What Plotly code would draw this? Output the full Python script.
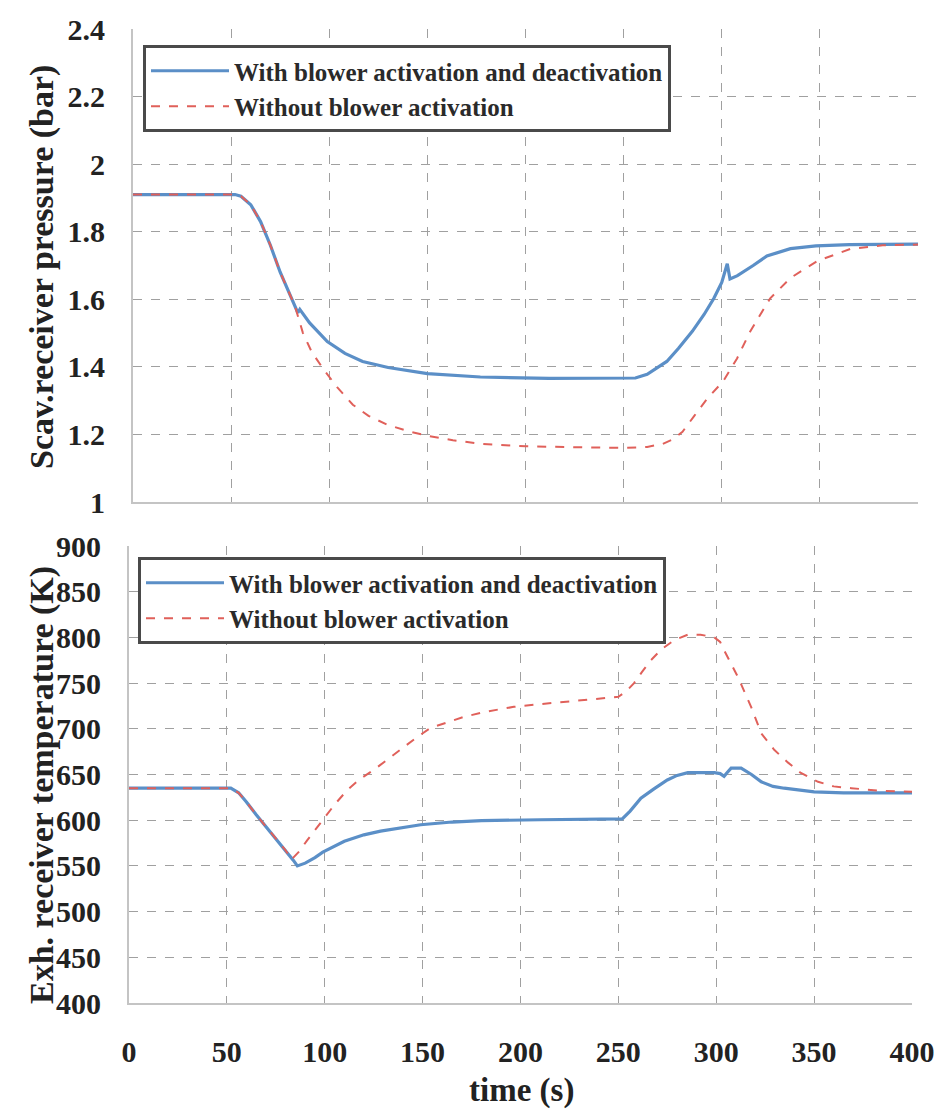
import plotly.graph_objects as go

# ---------------- data ----------------
# Top: scavenging receiver pressure (bar)
t_p_with = [0, 52, 55, 60, 65, 70, 75, 80, 82.5, 84, 85, 90, 99, 108, 117, 130, 150, 177, 212, 250,
            256, 262, 268, 272, 278, 285, 291, 296, 300, 302.8, 304.2, 308, 316, 323, 335, 348, 365, 400]
p_with = [1.91, 1.91, 1.905, 1.88, 1.83, 1.76, 1.68, 1.615, 1.585, 1.56, 1.57, 1.53, 1.475, 1.44, 1.416,
          1.398, 1.38, 1.37, 1.366, 1.365, 1.367, 1.378, 1.40, 1.416, 1.455, 1.505, 1.555, 1.603, 1.65,
          1.705, 1.66, 1.67, 1.70, 1.728, 1.75, 1.758, 1.762, 1.763]

t_p_without = [0, 52, 55, 60, 65, 70, 75, 80, 82.5, 86.6, 91, 96.8, 104, 112, 120, 129.5, 140, 150, 163,
               177, 200, 225, 250, 262, 270, 275, 280, 286, 292.6, 300.7, 307.8, 314.5, 324.7, 335, 348.6,
               365.5, 382, 400]
p_without = [1.91, 1.91, 1.905, 1.88, 1.83, 1.76, 1.68, 1.615, 1.58, 1.50, 1.445, 1.395, 1.34, 1.288,
             1.255, 1.229, 1.21, 1.196, 1.183, 1.172, 1.165, 1.162, 1.16, 1.163, 1.172, 1.185, 1.208, 1.255,
             1.306, 1.357, 1.425, 1.505, 1.603, 1.663, 1.713, 1.749, 1.76, 1.762]

# Bottom: exhaust receiver temperature (K)
t_T_with = [0, 52, 56, 60, 65, 70, 75, 80, 84, 86, 90, 95, 99, 110, 120, 128.5, 140, 149, 165, 180, 210,
            252, 256, 261.5, 268, 275, 280, 285.5, 292, 299, 302, 304, 305.5, 307.6, 312.7, 318, 323, 329,
            334.7, 342, 350, 365, 400]
T_with = [635, 635, 630, 620, 606, 593, 580, 567, 556, 550, 553, 559, 565, 577, 584, 588, 592, 595, 598,
          599.5, 600.5, 601.5, 610, 624, 634, 644, 649, 652, 652, 652, 651, 648, 652, 657, 657, 650, 642,
          637, 635, 633, 631, 630, 630]

t_T_without = [0, 52, 56, 60, 65, 70, 75, 80, 83, 87, 91, 95, 99, 105, 111.5, 118, 125, 131, 138.7, 146,
               154, 162, 171, 183, 196.6, 210, 224, 238, 250, 254, 258, 262, 266.6, 272, 278.5, 285.5, 292,
               299, 302, 304, 307.5, 311, 314.5, 317.8, 323, 329.6, 336.7, 343, 352, 360, 369, 385, 400]
T_without = [635, 635, 630, 620, 606, 593, 580, 567, 557, 566, 578, 589, 600, 617, 633, 645, 655, 665,
             677, 689, 701, 707, 713, 719, 724, 727, 730, 733, 735, 741, 750, 762, 775, 787, 797, 803, 803,
             800, 795, 786, 772, 757, 740, 724, 695, 677, 663, 652, 642, 637, 635, 632, 631]

x_ticks = [0, 50, 100, 150, 200, 250, 300, 350, 400]
p_ticks = [1, 1.2, 1.4, 1.6, 1.8, 2, 2.2, 2.4]
p_tick_text = ["1", "1.2", "1.4", "1.6", "1.8", "2", "2.2", "2.4"]
T_ticks = [400, 450, 500, 550, 600, 650, 700, 750, 800, 850, 900]

name_with = "With blower activation and deactivation"
name_without = "Without blower activation"

# ---------------- styling ----------------
W, H = 943, 1109
FONT = "Liberation Serif, DejaVu Serif, serif"
BLUE = "#5b8fc7"
RED = "#e0605a"
GRID = "#a0a0a0"
AXL = "#c4c4c4"

fig = go.Figure()
fig.add_trace(go.Scatter(x=t_p_with, y=p_with, mode="lines", name=name_with,
                         line=dict(color=BLUE, width=3.2), xaxis="x", yaxis="y", legend="legend"))
fig.add_trace(go.Scatter(x=t_p_without, y=p_without, mode="lines", name=name_without,
                         line=dict(color=RED, width=2, dash="dash"), xaxis="x", yaxis="y", legend="legend"))
fig.add_trace(go.Scatter(x=t_T_with, y=T_with, mode="lines", name=name_with,
                         line=dict(color=BLUE, width=3.2), xaxis="x2", yaxis="y2", legend="legend2"))
fig.add_trace(go.Scatter(x=t_T_without, y=T_without, mode="lines", name=name_without,
                         line=dict(color=RED, width=2, dash="dash"), xaxis="x2", yaxis="y2", legend="legend2"))

tickfont = dict(family=FONT, size=30, color="#222", weight="bold")


def px_x(a, b):
    return [a / W, b / W]


def px_y(top, bottom):
    return [1 - bottom / H, 1 - top / H]


common_x = dict(range=[0, 400], tickvals=x_ticks, showgrid=True, gridcolor=GRID, griddash="dash",
                gridwidth=1.2, zeroline=False, showline=True, linecolor=AXL, linewidth=2,
                ticks="", tickfont=tickfont, automargin=False)
common_y = dict(showgrid=True, gridcolor=GRID, griddash="dash", gridwidth=1.2, zeroline=False,
                showline=True, linecolor=AXL, linewidth=2, ticks="", tickfont=tickfont,
                ticklabelstandoff=20, automargin=False)

legend_common = dict(font=dict(family=FONT, size=25, color="#2a2a2a", weight="bold"),
                     bordercolor="#4a4a4a", borderwidth=3, bgcolor="white",
                     xanchor="left", yanchor="top", itemwidth=78, tracegroupgap=0,
                     itemclick=False)

title_font = dict(family=FONT, size=34, color="#222", weight="bold")

fig.update_layout(
    width=W, height=H, autosize=False,
    margin=dict(l=0, r=0, t=0, b=0, pad=0, autoexpand=False),
    paper_bgcolor="white", plot_bgcolor="white",
    showlegend=True,
    xaxis=dict(domain=px_x(133, 918), anchor="y", showticklabels=False, **common_x),
    yaxis=dict(domain=px_y(29, 502), anchor="x", range=[1, 2.4], tickvals=p_ticks,
               ticktext=p_tick_text, **common_y),
    xaxis2=dict(domain=px_x(129, 912), anchor="y2", ticklabelstandoff=21, **common_x),
    yaxis2=dict(domain=px_y(546, 1003), anchor="x2", range=[400, 900], tickvals=T_ticks, **common_y),
    legend=dict(x=143 / W, y=1 - 45 / H, **legend_common),
    legend2=dict(x=138 / W, y=1 - 557 / H, **legend_common),
    annotations=[
        dict(text="Scav.receiver pressure (bar)", x=42 / W, y=1 - 267 / H, xref="paper", yref="paper",
             textangle=-90, showarrow=False, xanchor="center", yanchor="middle", font=title_font),
        dict(text="Exh. receiver temperature (K)", x=42 / W, y=1 - 785 / H, xref="paper", yref="paper",
             textangle=-90, showarrow=False, xanchor="center", yanchor="middle", font=title_font),
        dict(text="time (s)", x=521 / W, y=1 - 1090 / H, xref="paper", yref="paper",
             showarrow=False, xanchor="center", yanchor="middle",
             font=dict(family=FONT, size=33, color="#222", weight="bold")),
    ],
)

fig.write_html("out.html", config={"responsive": False})
